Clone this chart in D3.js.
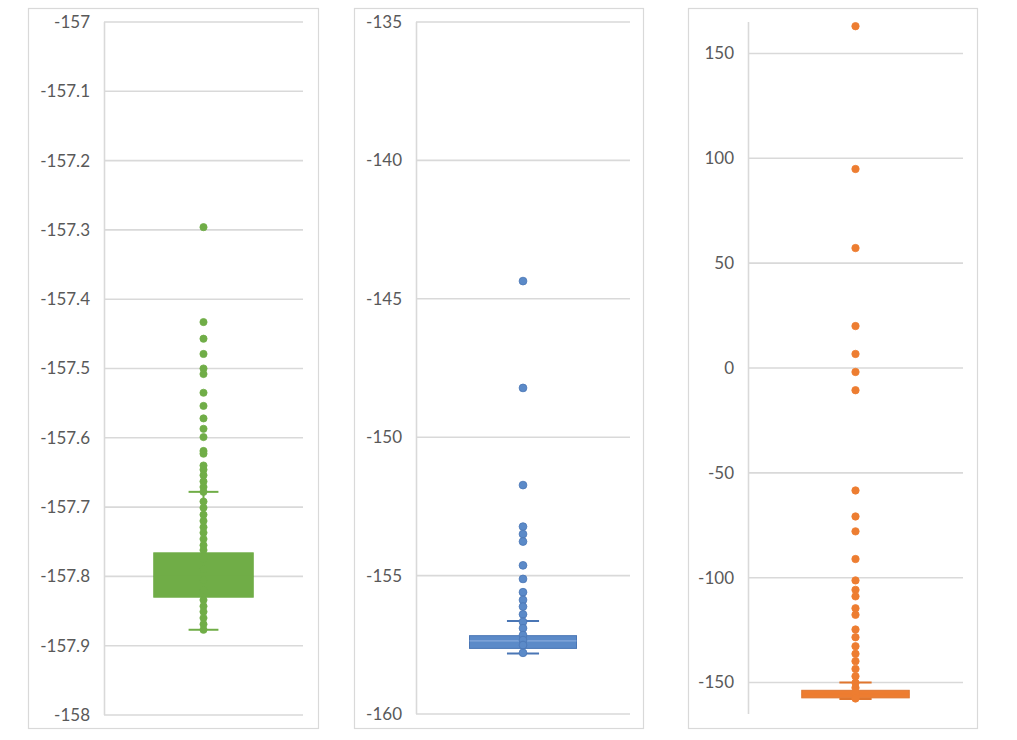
<!DOCTYPE html>
<html>
<head>
<meta charset="utf-8">
<script src="https://cdn.jsdelivr.net/npm/d3@7"></script>
<style>
  html, body { margin: 0; padding: 0; background: #ffffff; }
  svg { display: block; }
</style>
</head>
<body>
<svg id="chart" width="1017" height="740"></svg>
<script>
// ---------- DATA ----------
const categories = ["Series A", "Series B", "Series C"];

// tick values per panel
const greenTicks  = [-157, -157.1, -157.2, -157.3, -157.4, -157.5, -157.6, -157.7, -157.8, -157.9, -158];
const blueTicks   = [-135, -140, -145, -150, -155, -160];
const orangeTicks = [150, 100, 50, 0, -50, -100, -150];

// axis domains
const greenDomain  = [-158, -157];
const blueDomain   = [-160, -135];
const orangeDomain = [-165, 165];

// box stats: [lowerWhisker, q1, median, q3, upperWhisker]
const greenBox  = [-157.877, -157.830, -157.800, -157.766, -157.678];
const blueBox   = [-157.81, -157.63, -157.36, -157.17, -156.64];
const orangeBox = [-157.8, -157.3, -155.5, -153.7, -150.0];

// plotted points (outliers and inner points)
const greenPoints = [
  -157.296, -157.433, -157.457, -157.479, -157.500, -157.508, -157.535, -157.554,
  -157.572, -157.587, -157.599, -157.619, -157.623, -157.640, -157.646, -157.654,
  -157.663, -157.671, -157.678, -157.692, -157.701, -157.711, -157.720, -157.729,
  -157.737, -157.746, -157.755, -157.762, -157.775, -157.790, -157.805, -157.820,
  -157.834, -157.843, -157.851, -157.860, -157.869, -157.877
];
const bluePoints = [
  -144.36, -148.22, -151.73, -153.23, -153.50, -153.77, -154.63, -155.12,
  -155.60, -155.88, -156.12, -156.40, -156.67, -156.90, -157.15, -157.33,
  -157.51, -157.79
];
const orangePoints = [
  163.0, 94.9, 57.2, 20.0, 6.7, -1.9, -10.6, -58.4, -70.8, -77.9, -91.1,
  -101.3, -105.8, -108.9, -114.6, -117.7, -124.7, -128.4, -132.7, -136.3,
  -139.8, -143.5, -147.0, -150.1, -152.5, -155.5, -157.6
];

// ---------- LAYOUT ----------
const panels = [
  { cat: categories[0], ticks: greenTicks, domain: greenDomain, box: greenBox, points: greenPoints,
    frame: [28, 8, 318, 728], plotX: [104, 303], plotY: [715, 22], r: 3.6,
    fill: "#70ad47", stroke: "#70ad47", median: "#70ad47", pointStroke: "#70ad47" },
  { cat: categories[1], ticks: blueTicks, domain: blueDomain, box: blueBox, points: bluePoints,
    frame: [354, 8, 643, 728], plotX: [416, 630], plotY: [714, 22], r: 3.9,
    fill: "#5b8ac8", stroke: "#4a76b5", median: "#86a9dc", pointStroke: "#4a76b5" },
  { cat: categories[2], ticks: orangeTicks, domain: orangeDomain, box: orangeBox, points: orangePoints,
    frame: [688, 8, 977, 728], plotX: [748, 963], plotY: [714, 22], r: 3.7,
    fill: "#ed7d31", stroke: "#e0762e", median: "#ed7d31", pointStroke: "#ed7d31" }
];

const svg = d3.select("#chart");
const gridColor = "#d9d9d9";
const fmt = d => String(d);

panels.forEach(p => {
  const g = svg.append("g");

  // frame
  g.append("rect")
    .attr("x", p.frame[0] + 0.5).attr("y", p.frame[1] + 0.5)
    .attr("width", p.frame[2] - p.frame[0]).attr("height", p.frame[3] - p.frame[1])
    .attr("fill", "#ffffff").attr("stroke", gridColor).attr("stroke-width", 1.2);

  const y = d3.scaleLinear().domain(p.domain).range(p.plotY);
  const x = d3.scaleBand().domain([p.cat]).range(p.plotX).paddingInner(0).paddingOuter(0.5);

  // gridlines
  g.selectAll("line.grid").data(p.ticks).join("line")
    .attr("class", "grid")
    .attr("x1", p.plotX[0]).attr("x2", p.plotX[1])
    .attr("y1", d => y(d)).attr("y2", d => y(d))
    .attr("stroke", gridColor).attr("stroke-width", 1.6);

  // axis
  const axis = d3.axisLeft(y).tickValues(p.ticks).tickFormat(fmt).tickSize(0).tickPadding(14);
  const ag = g.append("g").attr("transform", `translate(${p.plotX[0]},0)`).call(axis);
  ag.select(".domain").attr("stroke", gridColor).attr("stroke-width", 1.6)
    .attr("d", `M0.5,${p.plotY[1]}V${p.plotY[0]}`);
  ag.selectAll("text")
    .attr("fill", "#595959")
    .style("font-family", "Lato, 'Open Sans', sans-serif")
    .style("font-size", "17px");

  // box & whiskers
  const [lw, q1, med, q3, uw] = p.box;
  const bx = x(p.cat), bw = x.bandwidth(), cx = bx + bw / 2;
  const capW = bw * 0.3;

  g.append("line").attr("x1", cx).attr("x2", cx).attr("y1", y(uw)).attr("y2", y(lw))
    .attr("stroke", p.stroke).attr("stroke-width", 2);
  [uw, lw].forEach(v => {
    g.append("line").attr("x1", cx - capW / 2).attr("x2", cx + capW / 2)
      .attr("y1", y(v)).attr("y2", y(v))
      .attr("stroke", p.stroke).attr("stroke-width", 2);
  });
  g.append("rect")
    .attr("x", bx).attr("y", y(q3))
    .attr("width", bw).attr("height", y(q1) - y(q3))
    .attr("fill", p.fill).attr("stroke", p.stroke).attr("stroke-width", 1);
  g.append("line").attr("x1", bx).attr("x2", bx + bw).attr("y1", y(med)).attr("y2", y(med))
    .attr("stroke", p.median).attr("stroke-width", 1.2);

  // points
  g.selectAll("circle.pt").data(p.points).join("circle")
    .attr("class", "pt")
    .attr("cx", cx).attr("cy", d => y(d)).attr("r", p.r)
    .attr("fill", p.fill).attr("stroke", p.pointStroke).attr("stroke-width", 0.8);
});
</script>
</body>
</html>
